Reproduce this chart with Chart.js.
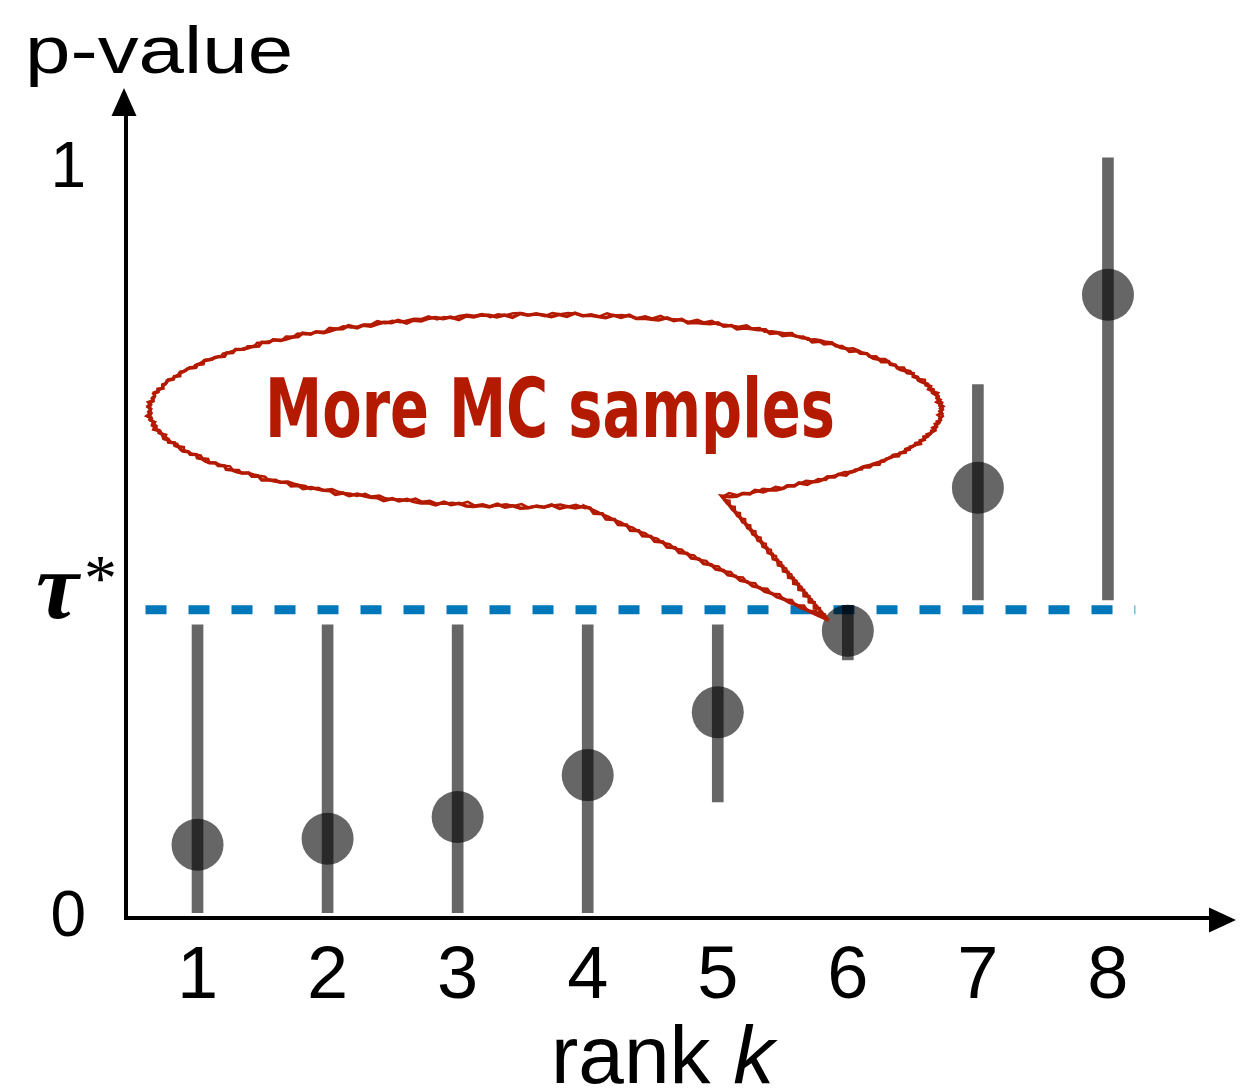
<!DOCTYPE html>
<html>
<head>
<meta charset="utf-8">
<script src="https://cdn.jsdelivr.net/npm/chart.js@4.4.1/dist/chart.umd.min.js"></script>
<style>
  html, body { margin: 0; padding: 0; background: #fff; }
  canvas { display: block; }
</style>
</head>
<body>
<canvas id="chart" width="1244" height="1090"></canvas>
<script>
// data
const ranks = [1, 2, 3, 4, 5, 6, 7, 8];
const pValues = [0.098, 0.106, 0.135, 0.191, 0.275, 0.384, 0.575, 0.833];
const ciLow  = [0.007, 0.007, 0.007, 0.007, 0.155, 0.345, 0.425, 0.425];
const ciHigh = [0.392, 0.392, 0.392, 0.392, 0.392, 0.418, 0.713, 1.016];
const tauStar = 0.412;
const tauLineX = [0.6, 8.21];
const yTickValues = [0, 1];

const markColor = 'rgba(0,0,0,0.6)';
const sans = '"Liberation Sans", Arial, Helvetica, sans-serif';

// arrows, axis titles, tau label and speech bubble
const decorations = {
    id: 'decorations',
    afterDraw(chart) {
        const ctx = chart.ctx;
        const area = chart.chartArea;
        const yScale = chart.scales.y;
        ctx.save();

        // axis arrows
        ctx.fillStyle = '#000';
        ctx.beginPath();
        ctx.moveTo(area.left - 2, 88);
        ctx.lineTo(area.left - 14.5, 116);
        ctx.lineTo(area.left + 10.5, 116);
        ctx.closePath();
        ctx.fill();
        ctx.beginPath();
        ctx.moveTo(1236, area.bottom + 2);
        ctx.lineTo(1209, area.bottom - 10.5);
        ctx.lineTo(1209, area.bottom + 14.5);
        ctx.closePath();
        ctx.fill();

        // y title
        ctx.textBaseline = 'alphabetic';
        ctx.textAlign = 'left';
        ctx.save();
        ctx.scale(1.22, 1);
        ctx.font = '67px ' + sans;
        ctx.fillText('p-value', 25 / 1.22, 73);
        ctx.restore();

        // x title
        ctx.font = '82px ' + sans;
        ctx.fillText('rank ', 551, 1083);
        const w = ctx.measureText('rank ').width;
        ctx.font = 'italic 82px ' + sans;
        ctx.fillText('k', 551 + w, 1083);

        // tau* label
        const ty = yScale.getPixelForValue(tauStar);
        ctx.font = 'bold italic 96px "Liberation Serif", "Times New Roman", serif';
        ctx.fillText('τ', 36, ty + 8);
        ctx.font = '66px "Liberation Serif", "Times New Roman", serif';
        ctx.fillText('*', 84, ty - 10);

        // speech bubble, sketchy outline
        const cx = 545, cy = 411, rx = 396, ry = 96;
        const t0 = 1.475, t1 = 1.107 + Math.PI * 2;
        const tip = [826, 619];
        const red = '#b41a00';
        const bubblePath = (dx, dy, k) => {
            ctx.beginPath();
            const n = 300;
            for (let i = 0; i <= n; i++) {
                const t = t0 + (t1 - t0) * i / n;
                const wob = 1.4 * Math.sin(i * 2.7 + k) + 0.9 * Math.sin(i * 7.3 + k);
                const x = cx + (rx + wob) * Math.cos(t) + dx;
                const y = cy + (ry + wob) * Math.sin(t) + dy;
                if (i === 0) ctx.moveTo(x, y); else ctx.lineTo(x, y);
            }
            const end = [cx + rx * Math.cos(t1), cy + ry * Math.sin(t1)];
            const start = [cx + rx * Math.cos(t0), cy + ry * Math.sin(t0)];
            const edge = (a, b) => {
                for (let j = 1; j <= 40; j++) {
                    const f = j / 40;
                    const wob = j === 40 ? 0 : 1.2 * Math.sin(j * 3.1 + k);
                    ctx.lineTo(a[0] + (b[0] - a[0]) * f + dx + wob, a[1] + (b[1] - a[1]) * f + dy - wob);
                }
            };
            edge(end, tip);
            edge(tip, start);
            ctx.closePath();
        };
        bubblePath(0, 0, 0);
        ctx.fillStyle = '#fff';
        ctx.fill();
        ctx.strokeStyle = red;
        ctx.lineJoin = 'miter';
        ctx.lineWidth = 3.5;
        ctx.stroke();
        bubblePath(1, -1, 1.7);
        ctx.lineWidth = 2.5;
        ctx.stroke();

        ctx.fillStyle = red;
        ctx.textAlign = 'center';
        ctx.font = 'bold 82px "DejaVu Sans Condensed", "DejaVu Sans", sans-serif';
        ctx.fillText('More MC samples', 550, 437, 570);

        ctx.restore();
    }
};

const ctx = document.getElementById('chart').getContext('2d');
new Chart(ctx, {
    type: 'scatter',
    data: {
        datasets: [
            {
                type: 'line',
                label: 'tau',
                data: tauLineX.map(x => ({ x: x, y: tauStar })),
                borderColor: '#0077bb',
                borderWidth: 9,
                borderDash: [21, 22],
                borderCapStyle: 'butt',
                pointRadius: 0,
                order: 3
            },
            {
                type: 'bar',
                label: 'interval',
                data: ranks.map((r, i) => ({ x: r, y: [ciLow[i], ciHigh[i]] })),
                backgroundColor: markColor,
                borderWidth: 0,
                barThickness: 11,
                order: 2
            },
            {
                type: 'scatter',
                label: 'p-value',
                data: ranks.map((r, i) => ({ x: r, y: pValues[i] })),
                backgroundColor: markColor,
                borderWidth: 0,
                pointRadius: 26,
                pointHoverRadius: 26,
                order: 1
            }
        ]
    },
    options: {
        responsive: false,
        devicePixelRatio: 1,
        animation: false,
        events: [],
        layout: { padding: { top: 113, right: 32, left: 0, bottom: 0 } },
        plugins: { legend: { display: false }, tooltip: { enabled: false } },
        scales: {
            x: {
                type: 'linear',
                min: 0.45,
                max: 8.8,
                offset: false,
                grid: { display: false, drawTicks: false, offset: false },
                border: { display: true, color: '#000', width: 4 },
                afterBuildTicks: s => { s.ticks = ranks.map(v => ({ value: v })); },
                afterFit: s => { s.height = 172; },
                ticks: { color: '#000', padding: 15, font: { family: sans, size: 74 } }
            },
            y: {
                min: 0,
                max: 1.076,
                grid: { display: false, drawTicks: false },
                border: { display: true, color: '#000', width: 4 },
                afterBuildTicks: s => { s.ticks = yTickValues.map(v => ({ value: v })); },
                afterFit: s => { s.width = 126; },
                ticks: { color: '#000', padding: 40, font: { family: sans, size: 64 } }
            }
        }
    },
    plugins: [decorations]
});
</script>
</body>
</html>
